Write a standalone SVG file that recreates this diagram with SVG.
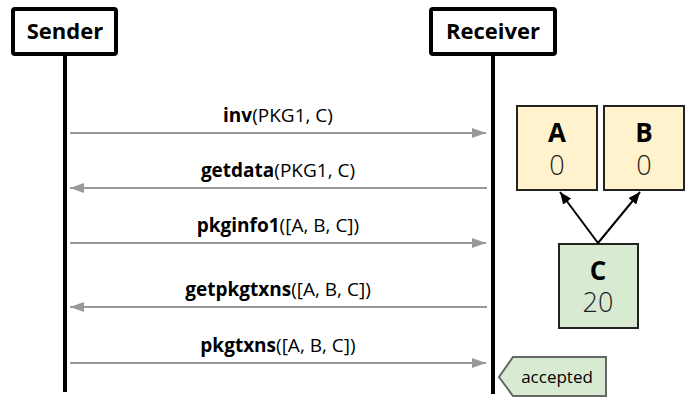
<svg xmlns="http://www.w3.org/2000/svg" width="698" height="409" viewBox="0 0 698 409">
<style>
text{font-family:"Open Sans","Noto Sans","DejaVu Sans",sans-serif;}
.actor rect{fill:#fff;stroke:#000;stroke-width:4;}
.actor text{font-size:22px;font-weight:bold;text-anchor:middle;}
.life{stroke:#000;stroke-width:4;}
.msg{stroke:#999;stroke-width:2;fill:none;}
.lbl{font-size:19px;text-anchor:middle;fill:#000;}
.lbl tspan.b{font-weight:bold;}
.pkg rect{stroke:#222;stroke-width:2;}
.pkg .n{font-size:26px;font-weight:bold;text-anchor:middle;}
.pkg .v{font-size:27px;font-weight:300;text-anchor:middle;fill:#222;}
.dep{stroke:#000;stroke-width:2;fill:none;}
</style>
<defs>
<marker id="gh" viewBox="0 0 14 10" refX="14" refY="5" markerWidth="14" markerHeight="10" markerUnits="userSpaceOnUse" orient="auto">
<path d="M0,0 L14,5 L0,10 z" fill="#999"/>
</marker>
<marker id="bh" viewBox="0 0 12 10" refX="12" refY="5" markerWidth="12" markerHeight="10" markerUnits="userSpaceOnUse" orient="auto">
<path d="M0,0 L12,5 L0,10 z" fill="#000"/>
</marker>
</defs>
<g id="sender" class="actor">
<line class="life" x1="65" y1="55" x2="65" y2="392"/>
<rect x="13" y="9" width="103" height="45" rx="2"/>
<text x="65" y="39">Sender</text>
</g>
<g id="receiver" class="actor">
<line class="life" x1="493" y1="55" x2="493" y2="394"/>
<rect x="431" y="9" width="124" height="45" rx="2"/>
<text x="493" y="39">Receiver</text>
</g>
<g id="messages">
<line class="msg" x1="70" y1="133" x2="486" y2="133" marker-end="url(#gh)"/>
<line class="msg" x1="487" y1="188" x2="70" y2="188" marker-end="url(#gh)"/>
<line class="msg" x1="70" y1="243" x2="486" y2="243" marker-end="url(#gh)"/>
<line class="msg" x1="487" y1="307" x2="70" y2="307" marker-end="url(#gh)"/>
<line class="msg" x1="70" y1="363" x2="486" y2="363" marker-end="url(#gh)"/>
<text class="lbl" x="278" y="122"><tspan class="b">inv</tspan>(PKG1, C)</text>
<text class="lbl" x="278" y="177"><tspan class="b">getdata</tspan>(PKG1, C)</text>
<text class="lbl" x="278" y="232"><tspan class="b">pkginfo1</tspan>([A, B, C])</text>
<text class="lbl" x="278" y="296"><tspan class="b">getpkgtxns</tspan>([A, B, C])</text>
<text class="lbl" x="278" y="352"><tspan class="b">pkgtxns</tspan>([A, B, C])</text>
</g>
<g id="A" class="pkg">
<rect x="517" y="106" width="80" height="84" fill="#fff2cc"/>
<text class="n" x="557" y="142">A</text>
<text class="v" x="557" y="175">0</text>
</g>
<g id="B" class="pkg">
<rect x="604" y="106" width="80" height="84" fill="#fff2cc"/>
<text class="n" x="644" y="142">B</text>
<text class="v" x="644" y="175">0</text>
</g>
<g id="C" class="pkg">
<rect x="559" y="244" width="79" height="84" fill="#d9ead3"/>
<text class="n" x="598" y="280">C</text>
<text class="v" x="598" y="312">20</text>
</g>
<g id="deps">
<line class="dep" x1="598" y1="243" x2="560" y2="192" marker-end="url(#bh)"/>
<line class="dep" x1="598" y1="243" x2="640" y2="192" marker-end="url(#bh)"/>
</g>
<g id="accepted">
<path d="M499,377 L513,357 L606,357 L606,396 L513,396 Z" fill="#d9ead3" stroke="#666" stroke-width="2"/>
<text x="557" y="383" style="font-size:17px;text-anchor:middle;">accepted</text>
</g>
</svg>
